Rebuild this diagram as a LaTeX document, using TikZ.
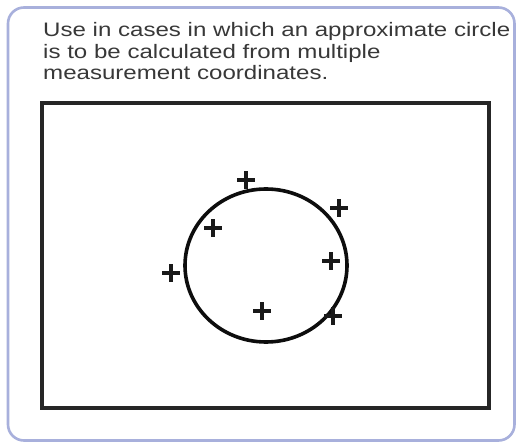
\documentclass[tikz,border=0pt]{standalone}
\usepackage{fontspec}
\usepackage{graphicx}
\setmainfont{Liberation Sans}
\usetikzlibrary{shapes.geometric}
\definecolor{bordercol}{HTML}{A8B0DC}
\begin{document}
\begin{tikzpicture}[x=1pt,y=-1pt,
  outerbox/.style={draw=bordercol,line width=2.6pt,rounded corners=16pt,fill=white},
  frame/.style={draw=black!85,line width=3.4pt},
  plus/.style={line width=3.6pt,black!90},
  caption/.style={anchor=base west,inner sep=0pt,text=black!78,font=\fontsize{19.5}{21.5}\selectfont}]
\useasboundingbox (0,0) rectangle (517,443);
\fill[white] (0,0) rectangle (517,443);
\draw[outerbox] (8,7.5) rectangle (514.5,440.5);
\node[caption] (l1) at (43,37) {\scalebox{1.235}[1]{Use in cases in which an approximate circle}};
\node[caption] (l2) at (43,58.5) {\scalebox{1.235}[1]{is to be calculated from multiple}};
\node[caption] (l3) at (43,80) {\scalebox{1.235}[1]{measurement coordinates.}};
\draw[frame] (42,103) rectangle (489,408);
\node[draw=black!95,line width=3.6pt,ellipse,minimum width=162pt,minimum height=153pt,inner sep=0pt] (circ) at (266,265.5) {};
\foreach \n/\px/\py in {p1/246/180,p2/213/228,p3/171/273,p4/339/208,p5/331/261,p6/262/311,p7/333/316}{
  \coordinate (\n) at (\px,\py);
  \draw[plus] ([xshift=-9pt]\n) -- ([xshift=9pt]\n);
  \draw[plus] ([yshift=-9pt]\n) -- ([yshift=9pt]\n);
}
\end{tikzpicture}
\end{document}
